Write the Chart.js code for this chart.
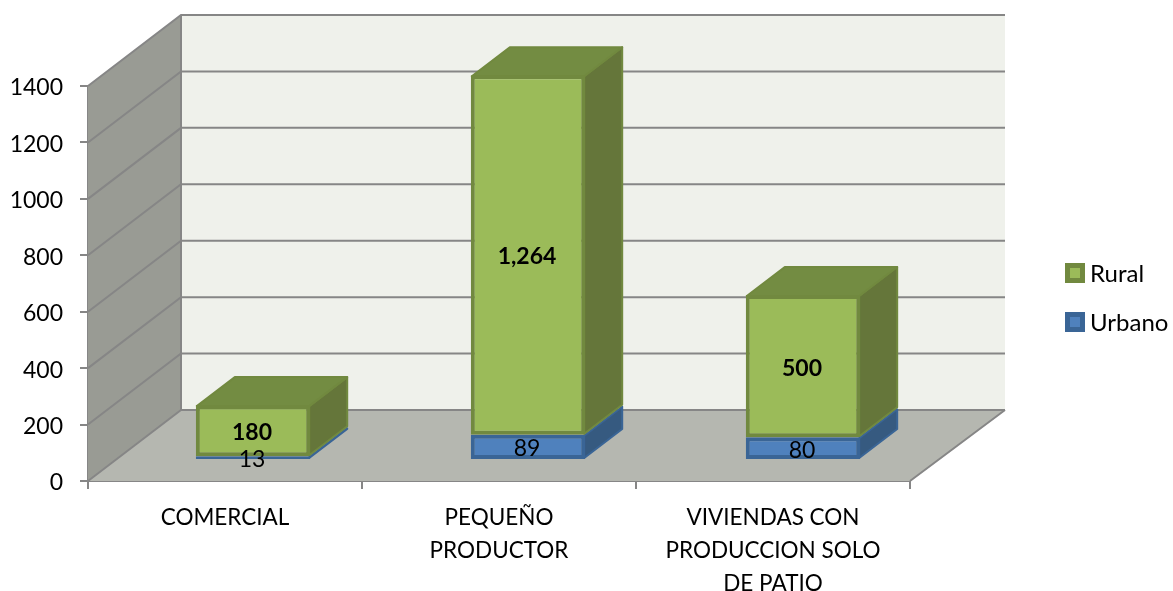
<!DOCTYPE html>
<html>
<head>
<meta charset="utf-8">
<title>Rural / Urbano</title>
<script src="https://cdn.jsdelivr.net/npm/chart.js@4"></script>
<style>
    html, body { margin: 0; padding: 0; background: #fff; }
    canvas { display: block; }
</style>
</head>
<body>
<canvas id="stacked-3d" width="1173" height="591"></canvas>
<script>
const categories = ["COMERCIAL", ["PEQUEÑO", "PRODUCTOR"], ["VIVIENDAS CON", "PRODUCCION SOLO", "DE PATIO"]];
const urbano = [13, 89, 80];
const rural = [180, 1264, 500];

// 3d look: depth of the whole box and of a bar
const WALL_DX = 93, WALL_DY = -71, WALL_RIGHT_DX = 95;
const BAR_DX = 38, BAR_DY = -29;
// the bars stand on a plane a bit behind the axes, which is also a little larger
const PLANE_SX = 1.0036, PLANE_SY = 1.008;
const PLANE_TX = 27.2, PLANE_TY = -24.85;
const GRID = "#868686";

function planeX(x) { return x * PLANE_SX + PLANE_TX; }
function planeY(y) { return y * PLANE_SY + PLANE_TY; }

function poly(ctx, pts, fill, stroke, width) {
    ctx.beginPath();
    pts.forEach(function (p, i) {
        if (i === 0) ctx.moveTo(p[0], p[1]); else ctx.lineTo(p[0], p[1]);
    });
    ctx.closePath();
    ctx.fillStyle = fill;
    ctx.fill();
    if (stroke) {
        ctx.strokeStyle = stroke;
        ctx.lineWidth = width;
        ctx.lineJoin = "round";
        ctx.stroke();
    }
}

const boxPlugin = {
    id: "box3d",
    beforeDatasetsDraw: function (chart) {
        const ctx = chart.ctx, a = chart.chartArea, y = chart.scales.y;
        const dx = WALL_DX, dy = WALL_DY, rx = WALL_RIGHT_DX;

        // walls and floor
        poly(ctx, [[a.left + dx, a.top + dy], [a.right + rx, a.top + dy], [a.right + rx, a.bottom + dy], [a.left + dx, a.bottom + dy]], "#eff1eb");
        poly(ctx, [[a.left, a.top], [a.left + dx, a.top + dy], [a.left + dx, a.bottom + dy], [a.left, a.bottom]], "#999b94");
        poly(ctx, [[a.left, a.bottom], [a.left + dx, a.bottom + dy], [a.right + rx, a.bottom + dy], [a.right, a.bottom]], "#b5b7b0");

        // gridlines run along the side wall then the back wall
        ctx.strokeStyle = GRID;
        ctx.lineWidth = 2;
        y.ticks.forEach(function (t) {
            const py = y.getPixelForValue(t.value);
            ctx.beginPath();
            ctx.moveTo(a.left, py);
            ctx.lineTo(a.left + dx, py + dy);
            ctx.lineTo(a.right + rx, py + dy);
            ctx.stroke();
        });
        ctx.beginPath();
        ctx.moveTo(a.left + dx, a.top + dy);
        ctx.lineTo(a.left + dx, a.bottom + dy);
        ctx.moveTo(a.right, a.bottom);
        ctx.lineTo(a.right + rx, a.bottom + dy);
        ctx.stroke();

        // side faces and top face of the bars
        chart.data.datasets.forEach(function (ds, d) {
            chart.getDatasetMeta(d).data.forEach(function (el) {
                const right = planeX(el.x + el.width / 2) - 1;
                const left = planeX(el.x - el.width / 2) + 1;
                const top = planeY(el.y) + 1, bottom = planeY(el.base) - 1;
                poly(ctx, [[right, top], [right + BAR_DX, top + BAR_DY], [right + BAR_DX, bottom + BAR_DY], [right, bottom]], ds.sideColor, ds.borderColor, 2);
                if (d === chart.data.datasets.length - 1) {
                    poly(ctx, [[left, top], [left + BAR_DX, top + BAR_DY], [right + BAR_DX, top + BAR_DY], [right, top]], ds.topColor, ds.borderColor, 2);
                }
            });
        });
    },
    beforeDatasetDraw: function (chart) {
        chart.ctx.save();
        chart.ctx.transform(PLANE_SX, 0, 0, PLANE_SY, PLANE_TX, PLANE_TY);
    },
    afterDatasetDraw: function (chart) {
        chart.ctx.restore();
    },
    afterDatasetsDraw: function (chart) {
        const ctx = chart.ctx;

        // value labels
        ctx.fillStyle = "#000";
        ctx.textAlign = "center";
        ctx.textBaseline = "middle";
        chart.data.datasets.forEach(function (ds, d) {
            ctx.font = (ds.label === "Rural" ? "bold " : "") + "23px Lato";
            chart.getDatasetMeta(d).data.forEach(function (el, i) {
                const cy = planeY((el.y + el.base) / 2);
                ctx.fillText(ds.data[i].toLocaleString("en-US"), planeX(el.x) - 1, cy + 2);
            });
        });

        // legend, rural on top
        const items = chart.data.datasets.slice().reverse();
        ctx.textAlign = "left";
        ctx.font = "24px Lato";
        items.forEach(function (ds, i) {
            const ly = 273 + i * 49;
            ctx.fillStyle = ds.borderColor;
            ctx.fillRect(1065, ly - 10, 20, 20);
            ctx.fillStyle = ds.backgroundColor;
            ctx.fillRect(1070, ly - 5, 10, 10);
            ctx.fillStyle = "#000";
            ctx.fillText(ds.label, 1090, ly + 1);
        });
    }
};

new Chart(document.getElementById("stacked-3d"), {
    type: "bar",
    data: {
        labels: categories,
        datasets: [{
            label: "Urbano",
            data: urbano,
            backgroundColor: "#4f81bd",
            borderColor: "#3a6596",
            sideColor: "#365a80",
            topColor: "#3f6797",
            borderWidth: 4,
            borderSkipped: false,
            clip: false
        }, {
            label: "Rural",
            data: rural,
            backgroundColor: "#9bbb59",
            borderColor: "#71893f",
            sideColor: "#65763a",
            topColor: "#738c42",
            borderWidth: 4,
            borderSkipped: false,
            clip: false
        }]
    },
    plugins: [boxPlugin],
    options: {
        responsive: false,
        animation: false,
        categoryPercentage: 1,
        barPercentage: 0.416,
        layout: { padding: { top: 86, right: 263, bottom: 0, left: 0 } },
        plugins: {
            legend: { display: false },
            tooltip: { enabled: false }
        },
        scales: {
            x: {
                stacked: true,
                afterFit: function (scale) { scale.height = 110; },
                border: { color: GRID, width: 2 },
                grid: { offset: true, drawOnChartArea: false, color: GRID, lineWidth: 2, tickLength: 8 },
                ticks: {
                    color: "#000",
                    padding: 12,
                    maxRotation: 0,
                    autoSkip: false,
                    font: { family: "Lato", size: 22.5, lineHeight: 1.467 }
                }
            },
            y: {
                stacked: true,
                min: 0,
                max: 1400,
                afterFit: function (scale) { scale.width = 88; },
                border: { color: GRID, width: 2 },
                grid: { drawOnChartArea: false, color: GRID, lineWidth: 2, tickLength: 8 },
                ticks: {
                    stepSize: 200,
                    color: "#000",
                    padding: 17,
                    // blank first line with a tiny line height nudges the number 2px down
                    font: { family: "Lato", size: 23, lineHeight: 0.174 },
                    callback: function (value) { return ["", String(value)]; }
                }
            }
        }
    }
});
</script>
</body>
</html>
